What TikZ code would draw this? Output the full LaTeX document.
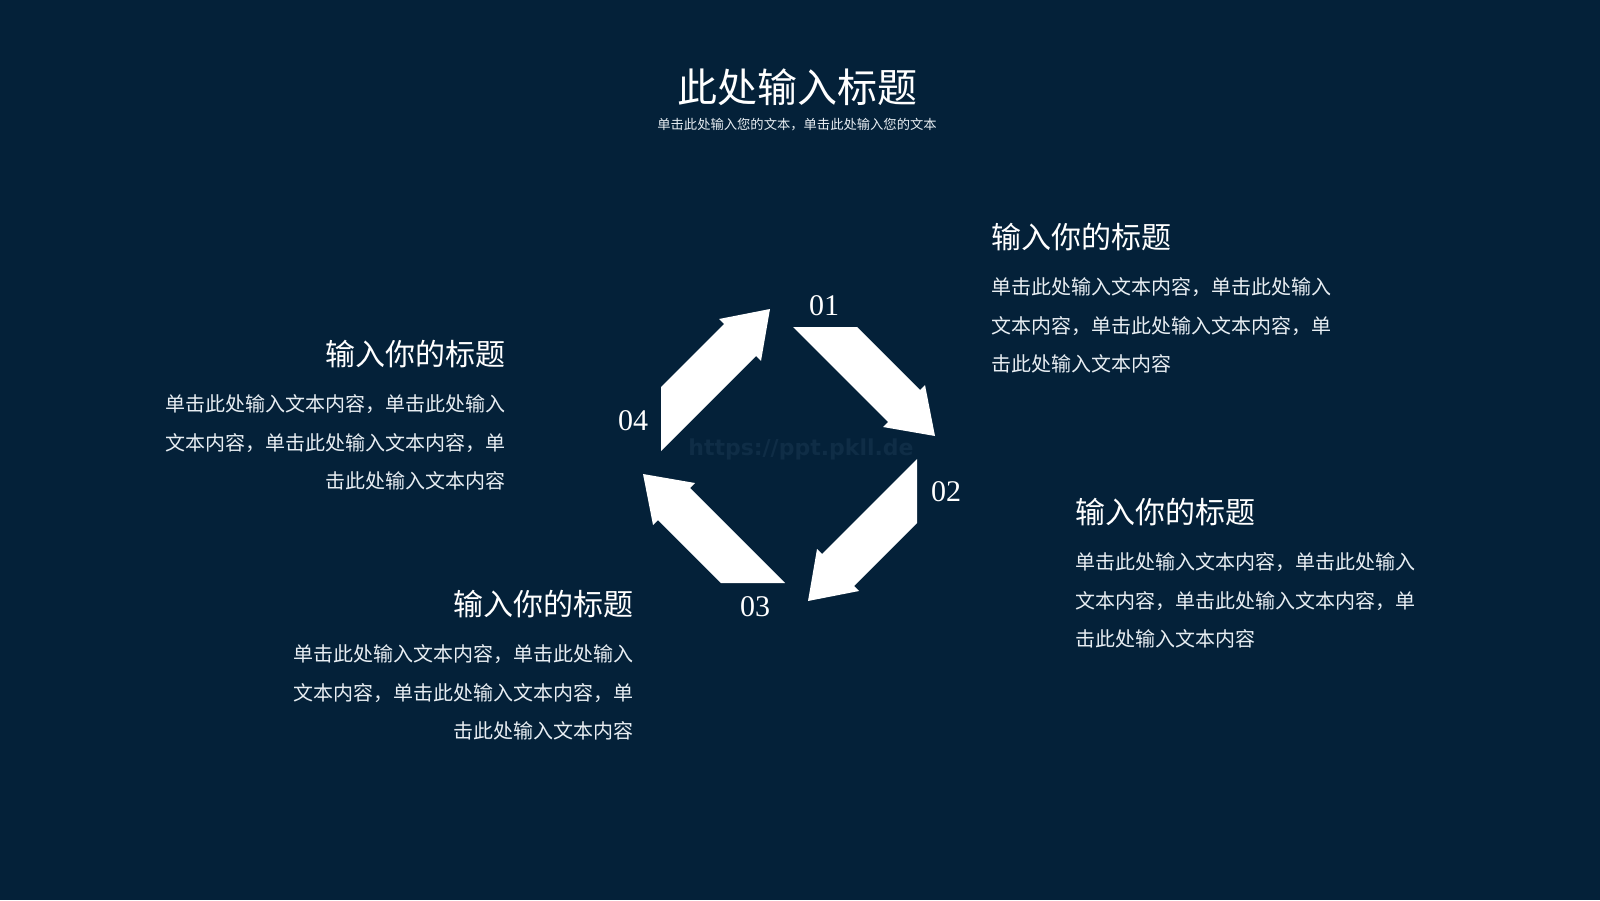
\documentclass[tikz,border=0pt]{standalone}
\usepackage{fontspec}
\setmainfont{Liberation Serif}
\newfontfamily\cjk{Noto Sans CJK SC}
\newfontfamily\marksans{DejaVu Sans}
\usetikzlibrary{positioning}
\definecolor{bgcolor}{RGB}{4,33,57}
\definecolor{bodycolor}{RGB}{232,238,243}
\definecolor{markcolor}{RGB}{15,45,70}

\begin{document}
\begin{tikzpicture}[
	x=1pt, y=-1pt,
	titletext/.style={
		font=\cjk\fontsize{40}{48}\selectfont,
		text=white,
		inner sep=0pt
	},
	subtext/.style={
		font=\cjk\fontsize{13.3}{16}\selectfont,
		text=bodycolor,
		inner sep=0pt
	},
	headtext/.style={
		font=\cjk\fontsize{30}{36}\selectfont,
		text=white,
		inner sep=0pt
	},
	bodytext/.style={
		font=\cjk\fontsize{20}{38.8}\selectfont,
		text=bodycolor,
		inner sep=0pt
	},
	numtext/.style={
		font=\fontsize{30}{36}\selectfont,
		text=white,
		inner sep=0pt
	},
	cyclearrow/.style={
		fill=white,
		draw=none
	},
	node distance=12pt
	]
	
	\fill[bgcolor] (0,0) rectangle (1600,900);
	
	\node[titletext] (title) at (797,87) {此处输入标题};
	\node[subtext, below=of title] (subtitle) {单击此处输入您的文本，单击此处输入您的文本};
	
	\node[font=\marksans\bfseries\fontsize{22}{24}\selectfont, text=markcolor, inner sep=0pt] (mark) at (801,449) {https://ppt.pkll.de};
	
	% four arrows round the centre
	\foreach \a in {0,-90,-180,-270}
		\fill[cyclearrow, shift={(789,455)}, rotate=\a]
			(4,-128) -- (68,-128) -- (131,-65) -- (136,-70) -- (146,-19) -- (94,-28) -- (99,-33) -- cycle;
	
	\node[numtext] (num1) at (824,306) {01};
	\node[numtext] (num2) at (946,492) {02};
	\node[numtext] (num3) at (755,607) {03};
	\node[numtext] (num4) at (633,421) {04};
	
	\node[headtext, anchor=west] (head1) at (991,237) {输入你的标题};
	\node[bodytext, align=left, below=26pt of head1.south west, anchor=north west] (body1) {
		单击此处输入文本内容，单击此处输入\\
		文本内容，单击此处输入文本内容，单\\
		击此处输入文本内容
	};
	
	\node[headtext, anchor=west] (head2) at (1075,512) {输入你的标题};
	\node[bodytext, align=left, below=26pt of head2.south west, anchor=north west] (body2) {
		单击此处输入文本内容，单击此处输入\\
		文本内容，单击此处输入文本内容，单\\
		击此处输入文本内容
	};
	
	\node[headtext, anchor=east] (head3) at (634,604) {输入你的标题};
	\node[bodytext, align=right, below=26pt of head3.south east, anchor=north east] (body3) {
		单击此处输入文本内容，单击此处输入\\
		文本内容，单击此处输入文本内容，单\\
		击此处输入文本内容
	};
	
	\node[headtext, anchor=east] (head4) at (506,354) {输入你的标题};
	\node[bodytext, align=right, below=26pt of head4.south east, anchor=north east] (body4) {
		单击此处输入文本内容，单击此处输入\\
		文本内容，单击此处输入文本内容，单\\
		击此处输入文本内容
	};
	
\end{tikzpicture}
\end{document}
